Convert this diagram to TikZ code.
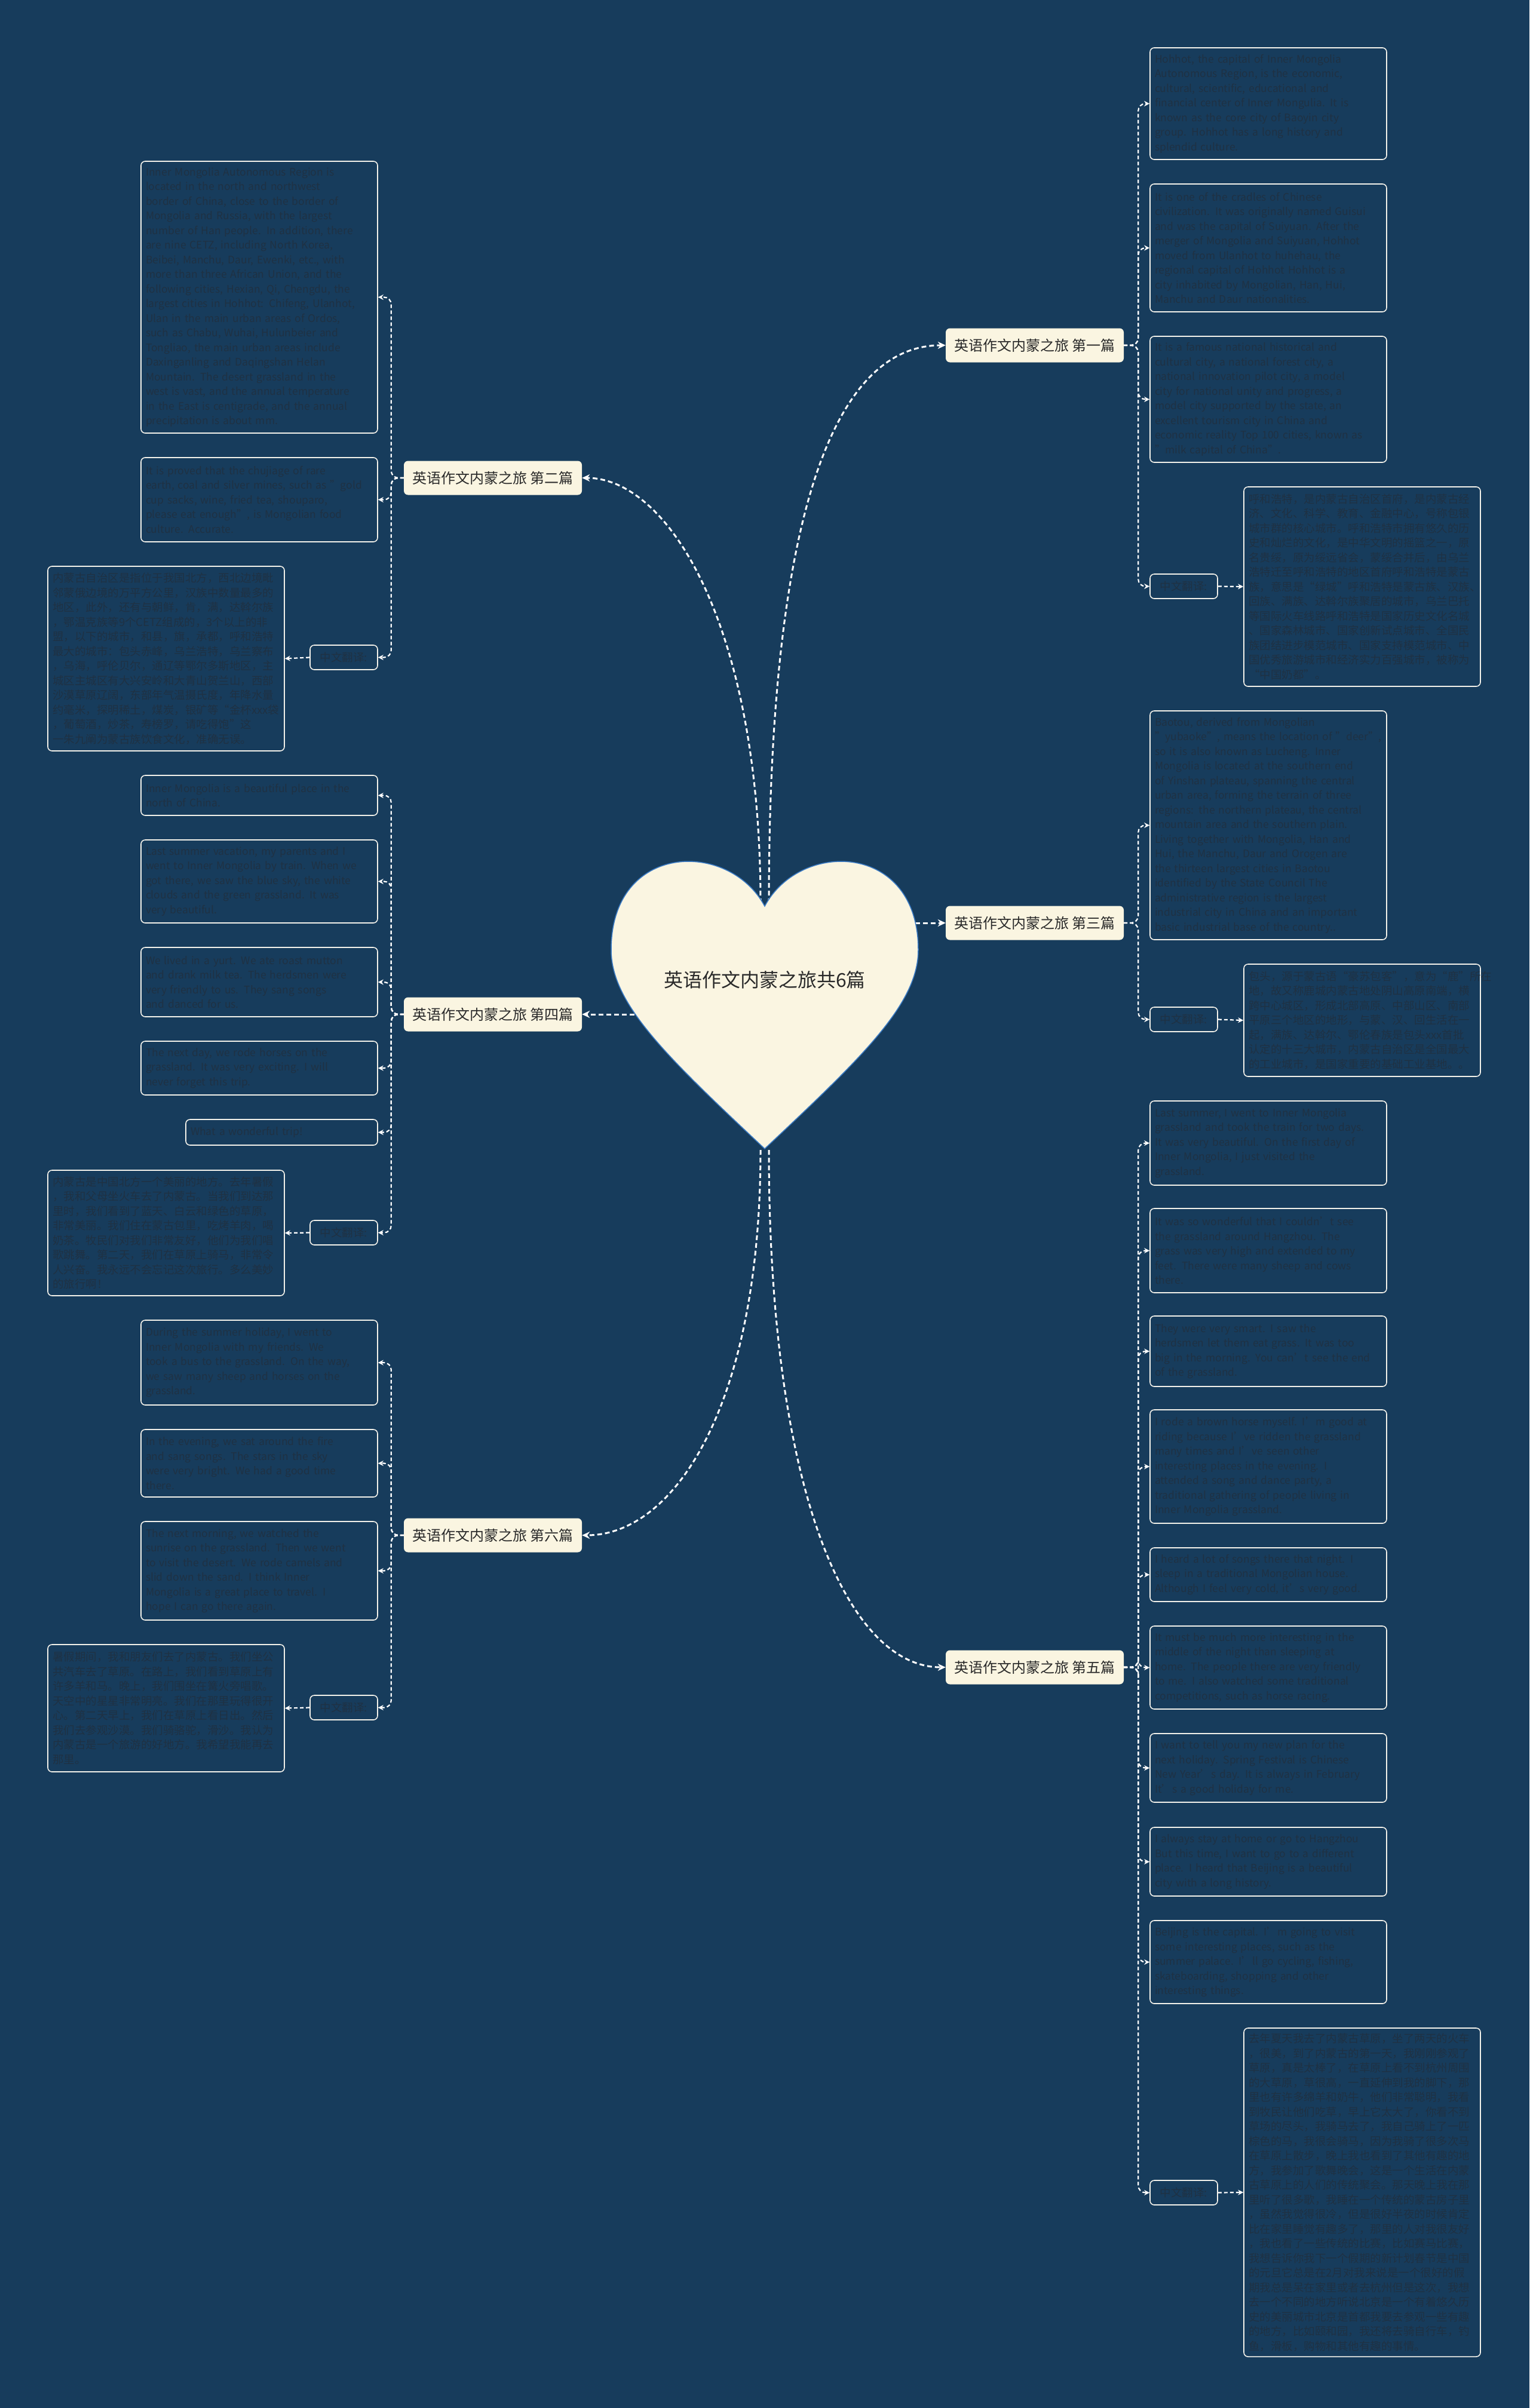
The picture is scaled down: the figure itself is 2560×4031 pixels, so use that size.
\documentclass[tikz,border=0pt]{standalone}
\usepackage{fontspec}
\setmainfont{Noto Sans CJK SC}
\usetikzlibrary{arrows.meta}
\definecolor{bg}{HTML}{173C5C}
\definecolor{cream}{HTML}{FAF5E1}
\definecolor{leafink}{HTML}{1F3143}
\definecolor{rim}{HTML}{F2F1EA}
\definecolor{heartrim}{HTML}{3B7BC4}
\definecolor{darkink}{HTML}{2A2A2A}
\newcommand\leaffont{\fontsize{17.5}{24.5}\selectfont}
\newcommand\zhfont{\fontsize{18.5}{24.5}\selectfont}

\begin{document}
\begin{tikzpicture}[x=1pt,y=-1pt,
  topic/.style={fill=cream, rounded corners=7pt, minimum width=298pt, minimum height=57pt, inner sep=0pt, text=darkink, font=\fontsize{24}{28}\selectfont},
  leaf/.style={draw=rim, line width=1.6pt, rounded corners=7pt, fill=bg, text=leafink, font=\leaffont, align=left, text width=380pt, inner xsep=8pt, inner ysep=0pt, minimum width=396pt},
  zhleaf/.style={leaf, font=\zhfont},
  tag/.style={draw=rim, line width=1.6pt, rounded corners=7pt, fill=bg, text=leafink, font=\zhfont, minimum width=113pt, minimum height=41pt, inner sep=0pt},
  mainlink/.style={draw=white, line width=3pt, dash pattern=on 8pt off 5pt, -{Stealth[length=13pt,width=12pt]}},
  leaflink/.style={draw=white, line width=2.2pt, dash pattern=on 6pt off 4pt, rounded corners=12pt, -{Stealth[length=9pt,width=9pt]}}]
\useasboundingbox (0,0) rectangle (2560,4031);
\fill[bg] (0,0) rectangle (2560,4031);

% heart anchors
\coordinate (notchL) at (1273,1512);
\coordinate (notchR) at (1287,1512);
\coordinate (tipL) at (1273,1925);
\coordinate (tipR) at (1287,1925);
\coordinate (hr) at (1532,1545);
\coordinate (hl) at (1062,1698);

% main topics
\node[topic] (b1) at (1732,578) {英语作文内蒙之旅 第一篇};
\node[topic] (b2) at (825,800) {英语作文内蒙之旅 第二篇};
\node[topic] (b3) at (1732,1545) {英语作文内蒙之旅 第三篇};
\node[topic] (b4) at (825,1698) {英语作文内蒙之旅 第四篇};
\node[topic] (b5) at (1732,2791) {英语作文内蒙之旅 第五篇};
\node[topic] (b6) at (825,2570) {英语作文内蒙之旅 第六篇};

\draw[mainlink] (notchR) .. controls (1287,850) and (1400,578) .. (b1.west);
\draw[mainlink] (notchL) .. controls (1273,1050) and (1120,800) .. (b2.east);
\draw[mainlink] (hr) -- (b3.west);
\draw[mainlink] (hl) -- (b4.east);
\draw[mainlink] (tipR) .. controls (1287,2500) and (1420,2791) .. (b5.west);
\draw[mainlink] (tipL) .. controls (1273,2350) and (1130,2570) .. (b6.east);

% heart
\path[fill=cream, draw=heartrim, line width=1.5pt] (1280,1517)
  .. controls (1340,1405) and (1537,1410) .. (1537,1590)
  .. controls (1537,1680) and (1445,1768) .. (1280,1923)
  .. controls (1115,1768) and (1023,1680) .. (1023,1590)
  .. controls (1023,1410) and (1220,1405) .. (1280,1517) -- cycle;
\node[text=darkink, font=\fontsize{32}{36}\selectfont] (root) at (1280,1640) {英语作文内蒙之旅共6篇};

% ---- 第一篇
\node[leaf, minimum height=187pt] (r1a) at (2123,173.5) {Hohhot, the capital of Inner Mongolia\\Autonomous Region, is the economic,\\cultural, scientific, educational and\\financial center of Inner Mongulia. It is\\known as the core city of Baoyin city\\group. Hohhot has a long history and\\splendid culture.};
\node[leaf, minimum height=214pt] (r1b) at (2123,415) {It is one of the cradles of Chinese\\civilization. It was originally named Guisui\\ and was the capital of Suiyuan. After the\\merger of Mongolia and Suiyuan, Hohhot\\ moved from Ulanhot to huhehau, the\\regional capital of Hohhot Hohhot is a\\city inhabited by Mongolian, Han, Hui,\\Manchu and Daur nationalities.};
\node[leaf, minimum height=211pt] (r1c) at (2123,668.5) {It is a famous national historical and\\cultural city, a national forest city, a\\national innovation pilot city, a model\\city for national unity and progress, a\\model city supported by the state, an\\excellent tourism city in China and\\economic reality Top 100 cities, known as\\ "milk capital of China".};
\node[tag] (r1t) at (1981.5,981.5) {中文翻译:};
\node[zhleaf, minimum height=334pt] (r1z) at (2280,982) {呼和浩特，是内蒙古自治区首府，是内蒙古经\\济、文化、科学、教育、金融中心，号称包银\\城市群的核心城市。呼和浩特市拥有悠久的历\\史和灿烂的文化，是中华文明的摇篮之一，原\\名贵绥，原为绥远省会，蒙绥合并后，由乌兰\\浩特迁至呼和浩特的地区首府呼和浩特是蒙古\\族，意思是“绿城”呼和浩特是蒙古族、汉族、\\回族、满族、达斡尔族聚居的城市，乌兰巴托\\等国际火车线路呼和浩特是国家历史文化名城\\、国家森林城市、国家创新试点城市、全国民\\族团结进步模范城市、国家支持模范城市、中\\国优秀旅游城市和经济实力百强城市，被称为\\“中国奶都”。};
\foreach \n in {r1a,r1b,r1c,r1t} \draw[leaflink] (b1.east) -- ++(24,0) |- (\n.west);
\draw[leaflink] (r1t.east) -- (r1z.west);

% ---- 第三篇
\node[leaf, minimum height=383pt] (r3a) at (2123,1381.5) {Baotou, derived from Mongolian\\"yubaoke", means the location of "deer",\\so it is also known as Lucheng. Inner\\Mongolia is located at the southern end\\of Yinshan plateau, spanning the central\\urban area, forming the terrain of three\\regions: the northern plateau, the central\\mountain area and the southern plain.\\Living together with Mongolia, Han and\\Hui, the Manchu, Daur and Orogen are\\the thirteen largest cities in Baotou\\identified by the State Council The\\administrative region is the largest\\industrial city in China and an important\\basic industrial base of the country..};
\node[tag] (r3t) at (1981.5,1706.5) {中文翻译:};
\node[zhleaf, minimum height=188pt] (r3z) at (2280,1708) {包头，源于蒙古语“豪苏包客”，意为“鹿”所在\\地，故又称鹿城内蒙古地处阴山高原南端，横\\跨中心城区，形成北部高原、中部山区、南部\\平原三个地区的地形，与蒙、汉、回生活在一\\起，满族、达斡尔、鄂伦春族是包头xxx首批\\认定的十三大城市，内蒙古自治区是全国最大\\的工业城市，是国家重要的基础工业基地。。};
\foreach \n in {r3a,r3t} \draw[leaflink] (b3.east) -- ++(24,0) |- (\n.west);
\draw[leaflink] (r3t.east) -- (r3z.west);

% ---- 第五篇
\node[leaf, minimum height=141pt] (r5a) at (2123,1913.5) {Last summer, I went to Inner Mongolia\\grassland and took the train for two days.\\ It was very beautiful. On the first day of\\Inner Mongolia, I just visited the\\grassland.};
\node[leaf, minimum height=141pt] (r5b) at (2123,2093.5) {It was so wonderful that I couldn't see\\the grassland around Hangzhou. The\\grass was very high and extended to my\\feet. There were many sheep and cows\\there.};
\node[leaf, minimum height=118pt] (r5c) at (2123,2262) {They were very smart. I saw the\\herdsmen let them eat grass. It was too\\big in the morning. You can't see the end\\ of the grassland.};
\node[leaf, minimum height=190pt] (r5d) at (2123,2455) {I rode a brown horse myself. I'm good at\\riding because I've ridden the grassland\\many times and I've seen other\\interesting places in the evening. I\\attended a song and dance party, a\\traditional gathering of people living in\\Inner Mongolia grassland.};
\node[leaf, minimum height=90pt] (r5e) at (2123,2636) {I heard a lot of songs there that night. I\\sleep in a traditional Mongolian house.\\Although I feel very cold, it's very good.};
\node[leaf, minimum height=139pt] (r5f) at (2123,2791.5) {It must be much more interesting in the\\middle of the night than sleeping at\\home. The people there are very friendly\\to me. I also watched some traditional\\competitions, such as horse racing.};
\node[leaf, minimum height=115pt] (r5g) at (2123,2959.5) {I want to tell you my new plan for the\\next holiday. Spring Festival is Chinese\\New Year's day. It is always in February\\It's a good holiday for me.};
\node[leaf, minimum height=115pt] (r5h) at (2123,3116.5) {I always stay at home or go to Hangzhou\\ But this time, I want to go to a different\\place. I heard that Beijing is a beautiful\\city with a long history.};
\node[leaf, minimum height=139pt] (r5i) at (2123,3284.5) {Beijing is the capital. I'm going to visit\\some interesting places, such as the\\summer palace. I'll go cycling, fishing,\\skateboarding, shopping and other\\interesting things.};
\node[tag] (r5t) at (1981.5,3670.5) {中文翻译:};
\node[zhleaf, minimum height=550pt] (r5z) at (2280,3670) {去年夏天我去了内蒙古草原，坐了两天的火车\\，很美，到了内蒙古的第一天，我刚刚参观了\\草原，真是太棒了，在草原上看不到杭州周围\\的大草原，草很高，一直延伸到我的脚下，那\\里也有许多绵羊和奶牛，他们非常聪明，我看\\到牧民让他们吃草，早上它太大了，你看不到\\草场的尽头，我骑马去了，我自己骑上了一匹\\棕色的马，我很会骑马，因为我骑了很多次马\\在草原上散步，晚上我也看到了其他有趣的地\\方，我参加了歌舞晚会，这是一个生活在内蒙\\古草原上的人们的传统聚会。那天晚上我在那\\里听了很多歌，我睡在一个传统的蒙古房子里\\，虽然我觉得很冷，但是很好半夜的时候肯定\\比在家里睡觉有趣多了，那里的人对我很友好\\，我也看了一些传统的比赛，比如赛马比赛，\\我想告诉你我下一个假期的新计划春节是中国\\的元旦它总是在2月对我来说是一个很好的假\\期我总是呆在家里或者去杭州但是这次，我想\\去一个不同的地方听说北京是一个有着悠久历\\史的美丽城市北京是首都我要去参观一些有趣\\的地方，比如颐和园，我还将去骑自行车，钓\\鱼，滑板，购物和其他有趣的事情。};
\foreach \n in {r5a,r5b,r5c,r5d,r5e,r5f,r5g,r5h,r5i,r5t} \draw[leaflink] (b5.east) -- ++(24,0) |- (\n.west);
\draw[leaflink] (r5t.east) -- (r5z.west);

% ---- 第二篇
\node[leaf, minimum height=455pt] (l2a) at (434,497.5) {Inner Mongolia Autonomous Region is\\located in the north and northwest\\border of China, close to the border of\\Mongolia and Russia, with the largest\\number of Han people. In addition, there\\are nine CETZ, including North Korea,\\Beibei, Manchu, Daur, Ewenki, etc., with\\more than three African Union, and the\\following cities, Hexian, Qi, Chengdu, the\\largest cities in Hohhot: Chifeng, Ulanhot,\\ Ulan in the main urban areas of Ordos,\\such as Chabu, Wuhai, Hulunbeier and\\Tongliao, the main urban areas include\\Daxinganling and Daqingshan Helan\\Mountain. The desert grassland in the\\west is vast, and the annual temperature\\in the East is centigrade, and the annual\\precipitation is about mm.};
\node[leaf, minimum height=141pt] (l2b) at (434,836.5) {It is proved that the chujiage of rare\\earth, coal and silver mines, such as "gold\\ cup sacks, wine, fried tea, shouparo,\\please eat enough", is Mongolian food\\culture. Accurate.};
\node[tag] (l2t) at (575.5,1100.5) {中文翻译:};
\node[zhleaf, minimum height=309pt] (l2z) at (278,1102.5) {内蒙古自治区是指位于我国北方，西北边境毗\\邻蒙俄边境的万平方公里，汉族中数量最多的\\地区，此外，还有与朝鲜，肯，满，达斡尔族\\，鄂温克族等9个CETZ组成的，3个以上的非\\盟，以下的城市，和县，旗，承都，呼和浩特\\最大的城市：包头赤峰，乌兰浩特，乌兰察布\\，乌海，呼伦贝尔，通辽等鄂尔多斯地区，主\\城区主城区有大兴安岭和大青山贺兰山，西部\\沙漠草原辽阔，东部年气温摄氏度，年降水量\\约毫米，探明稀土，煤炭，银矿等“金杯xxx袋\\，葡萄酒，炒茶，寿榜罗，请吃得饱”这\\一朱九阐为蒙古族饮食文化，准确无误。};
\foreach \n in {l2a,l2b,l2t} \draw[leaflink] (b2.west) -- ++(-21,0) |- (\n.east);
\draw[leaflink] (l2t.west) -- (l2z.east);

% ---- 第四篇
\node[leaf, minimum height=67pt] (l4a) at (434,1331.5) {Inner Mongolia is a beautiful place in the\\north of China.};
\node[leaf, minimum height=139pt] (l4b) at (434,1475.5) {Last summer vacation, my parents and I\\went to Inner Mongolia by train. When we\\got there, we saw the blue sky, the white\\clouds and the green grassland. It was\\very beautiful.};
\node[leaf, minimum height=116pt] (l4c) at (434,1644) {We lived in a yurt. We ate roast mutton\\and drank milk tea. The herdsmen were\\very friendly to us. They sang songs\\and danced for us.};
\node[leaf, minimum height=90pt] (l4d) at (434,1788) {The next day, we rode horses on the\\grassland. It was very exciting. I will\\never forget this trip.};
\node[leaf, minimum height=43pt, minimum width=321pt, text width=305pt] (l4e) at (471.5,1895.5) {What a wonderful trip!};
\node[tag] (l4t) at (575.5,2063.5) {中文翻译:};
\node[zhleaf, minimum height=210pt] (l4z) at (278,2064) {内蒙古是中国北方一个美丽的地方。去年暑假\\，我和父母坐火车去了内蒙古。当我们到达那\\里时，我们看到了蓝天、白云和绿色的草原，\\非常美丽。我们住在蒙古包里，吃烤羊肉，喝\\奶茶。牧民们对我们非常友好，他们为我们唱\\歌跳舞。第二天，我们在草原上骑马，非常令\\人兴奋。我永远不会忘记这次旅行。多么美妙\\的旅行啊！};
\foreach \n in {l4a,l4b,l4c,l4d,l4e,l4t} \draw[leaflink] (b4.west) -- ++(-21,0) |- (\n.east);
\draw[leaflink] (l4t.west) -- (l4z.east);

% ---- 第六篇
\node[leaf, minimum height=142pt] (l6a) at (434,2281) {During the summer holiday, I went to\\Inner Mongolia with my friends. We\\took a bus to the grassland. On the way,\\we saw many sheep and horses on the\\grassland.};
\node[leaf, minimum height=113pt] (l6b) at (434,2449.5) {In the evening, we sat around the fire\\and sang songs. The stars in the sky\\were very bright. We had a good time\\there.};
\node[leaf, minimum height=165pt] (l6c) at (434,2629.5) {The next morning, we watched the\\sunrise on the grassland. Then we went\\to visit the desert. We rode camels and\\slid down the sand. I think Inner\\Mongolia is a great place to travel. I\\hope I can go there again.};
\node[tag] (l6t) at (575.5,2858.5) {中文翻译:};
\node[zhleaf, minimum height=213pt] (l6z) at (278,2859.5) {暑假期间，我和朋友们去了内蒙古。我们坐公\\共汽车去了草原。在路上，我们看到草原上有\\许多羊和马。晚上，我们围坐在篝火旁唱歌。\\天空中的星星非常明亮。我们在那里玩得很开\\心。第二天早上，我们在草原上看日出。然后\\我们去参观沙漠。我们骑骆驼，滑沙。我认为\\内蒙古是一个旅游的好地方。我希望我能再去\\那里。};
\foreach \n in {l6a,l6b,l6c,l6t} \draw[leaflink] (b6.west) -- ++(-21,0) |- (\n.east);
\draw[leaflink] (l6t.west) -- (l6z.east);
\end{tikzpicture}
\end{document}
